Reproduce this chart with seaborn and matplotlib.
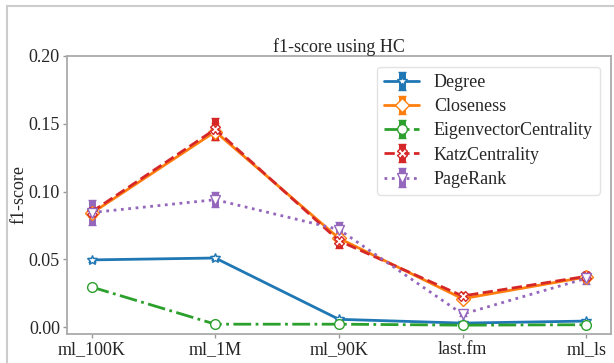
import numpy as np
import matplotlib
matplotlib.use("Agg")
import matplotlib.pyplot as plt
import seaborn as sns
from matplotlib.patches import Rectangle

datasets = ["ml_100K", "ml_1M", "ml_90K", "last.fm", "ml_ls"]
degree = [0.0496, 0.051, 0.0058, 0.003, 0.0045]
degree_err = [0.0012, 0.0015, 0.0005, 0.0004, 0.0005]
closeness = [0.084, 0.1442, 0.0655, 0.021, 0.037]
closeness_err = [0.003, 0.006, 0.003, 0.002, 0.002]
eigen = [0.0296, 0.0022, 0.0022, 0.0015, 0.0018]
eigen_err = [0.0005, 0.0003, 0.0003, 0.0003, 0.0003]
katz = [0.085, 0.146, 0.0637, 0.023, 0.0375]
katz_err = [0.003, 0.008, 0.005, 0.0015, 0.002]
pagerank = [0.0845, 0.094, 0.072, 0.0096, 0.036]
pagerank_err = [0.009, 0.0055, 0.0055, 0.001, 0.0045]
yticks = [0.00, 0.05, 0.10, 0.15, 0.20]

sns.set_theme(style="white")
plt.rcParams["font.family"] = ["Liberation Serif", "DejaVu Serif"]

fig = plt.figure(figsize=(6.14, 3.63), dpi=100)
ax = fig.add_axes([0.109, 0.080, 0.886, 0.766])

pal = sns.color_palette("tab10")
series = [
    ("Degree", degree, degree_err, pal[0], "-", "*"),
    ("Closeness", closeness, closeness_err, pal[1], "-", "D"),
    ("EigenvectorCentrality", eigen, eigen_err, pal[2], "-.", "o"),
    ("KatzCentrality", katz, katz_err, pal[3], "--", "X"),
    ("PageRank", pagerank, pagerank_err, pal[4], ":", "v"),
]
x = np.arange(len(datasets))
for name, vals, errs, col, ls, mk in series:
    ax.errorbar(x, vals, yerr=errs, color=col, linestyle=ls, linewidth=2,
                marker=mk, markersize=7, markerfacecolor="white",
                markeredgecolor=col, markeredgewidth=1,
                elinewidth=5, capsize=3, capthick=2, label=name)

ax.set_xlim(-0.2, 4.2)
ax.set_ylim(-0.005, 0.2)
ax.set_xticks(x)
ax.set_xticklabels(datasets, fontsize=13)
ax.set_yticks(yticks)
ax.set_yticklabels([f"{v:.2f}" for v in yticks], fontsize=13)
ax.tick_params(axis="both", bottom=True, left=True, length=3,
               color="#999999", pad=2, width=1)
ax.set_ylabel("f1-score", fontsize=13, labelpad=1)
ax.set_title("f1-score using HC", fontsize=13, pad=3)
for s in ax.spines.values():
    s.set_color("#aaaaaa")
    s.set_linewidth(1.3)

leg = ax.legend(loc="upper right", fontsize=13, handlelength=1.95,
                borderpad=0.4, labelspacing=0.4, frameon=True,
                borderaxespad=0.6)
leg.get_frame().set_edgecolor("#dddddd")

fig.patches.append(Rectangle((7 / 614, -0.1), 1.1, (363 - 6) / 363 + 0.1,
                             transform=fig.transFigure, fill=False,
                             edgecolor="#cccccc", linewidth=1.5))

fig.savefig("out.png", dpi=100)
